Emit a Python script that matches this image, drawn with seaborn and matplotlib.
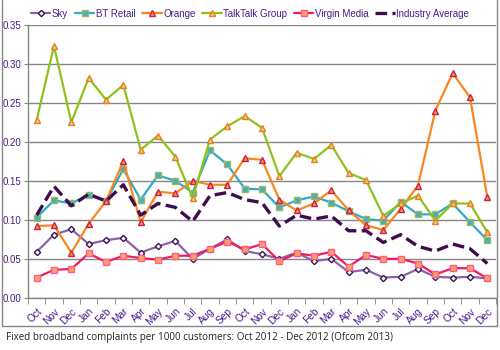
"""Fixed broadband complaints per 1000 customers, Oct 2010 - Dec 2012"""

import numpy as np
import matplotlib
matplotlib.use('Agg')
import matplotlib.pyplot as plt
from matplotlib.lines import Line2D
import seaborn as sns

months = ['Oct', 'Nov', 'Dec', 'Jan', 'Feb', 'Mar', 'Apr', 'May', 'Jun',
          'Jul', 'Aug', 'Sep', 'Oct', 'Nov', 'Dec', 'Jan', 'Feb', 'Mar',
          'Apr', 'May', 'Jun', 'Jul', 'Aug', 'Sep', 'Oct', 'Nov', 'Dec']

sky = [0.059, 0.081, 0.088, 0.069, 0.074, 0.077, 0.058, 0.066, 0.073,
       0.050, 0.063, 0.075, 0.060, 0.056, 0.050, 0.058, 0.047, 0.050,
       0.033, 0.036, 0.026, 0.027, 0.037, 0.027, 0.026, 0.027, 0.025]
bt_retail = [0.103, 0.125, 0.121, 0.132, 0.124, 0.165, 0.126, 0.157, 0.150,
             0.135, 0.189, 0.171, 0.140, 0.139, 0.116, 0.125, 0.130, 0.122,
             0.111, 0.101, 0.099, 0.123, 0.107, 0.107, 0.121, 0.097, 0.074]
orange = [0.092, 0.093, 0.058, 0.095, 0.124, 0.175, 0.097, 0.136, 0.134,
          0.150, 0.145, 0.145, 0.179, 0.177, 0.126, 0.112, 0.121, 0.138,
          0.112, 0.093, 0.087, 0.114, 0.144, 0.240, 0.288, 0.257, 0.129]
talktalk = [0.228, 0.323, 0.225, 0.282, 0.254, 0.273, 0.190, 0.208, 0.181,
            0.128, 0.203, 0.220, 0.233, 0.218, 0.156, 0.186, 0.178, 0.196,
            0.160, 0.151, 0.105, 0.121, 0.131, 0.099, 0.121, 0.121, 0.084]
virgin = [0.026, 0.036, 0.037, 0.057, 0.046, 0.054, 0.051, 0.049, 0.054,
          0.054, 0.063, 0.072, 0.062, 0.069, 0.047, 0.057, 0.054, 0.059,
          0.040, 0.055, 0.050, 0.050, 0.044, 0.030, 0.038, 0.038, 0.025]
industry_avg = [0.106, 0.143, 0.118, 0.133, 0.124, 0.145, 0.106, 0.121, 0.116,
                0.098, 0.131, 0.135, 0.126, 0.122, 0.092, 0.106, 0.101, 0.105,
                0.086, 0.086, 0.071, 0.081, 0.066, 0.060, 0.069, 0.063, 0.044]

sns.set_style('white')
plt.rcParams['font.family'] = ['Liberation Sans', 'DejaVu Sans']

TXT = '#4a1a8a'
GRID = '#868686'
FS = 7

fig = plt.figure(figsize=(5, 3.5), dpi=100)
ax = fig.add_axes([0.056, 0.149, 0.936, 0.78])
x = np.arange(len(months))

# 每条线: (名称, 数据, 线色, 标记, 填充色, 边色, 标记大小)
series = [
    ('Sky', sky, '#8a63a8', 'D', 'white', '#3a1450', 3.2),
    ('BT Retail', bt_retail, '#31a9c8', 's', '#4bacc6', '#9bbb59', 5),
    ('Orange', orange, '#f7871e', '^', '#f79646', '#c8204d', 5),
    ('TalkTalk Group', talktalk, '#8ec21a', '^', '#c5e07a', '#f07a20', 5),
    ('Virgin Media', virgin, '#ee1e5a', 's', '#f9a65a', '#ff5a96', 4.5),
]
for name, vals, lc, mk, mfc, mec, ms in series:
    sns.lineplot(x=x, y=vals, ax=ax, color=lc, lw=1.6, marker=mk,
                 markersize=ms, markerfacecolor=mfc, markeredgecolor=mec,
                 markeredgewidth=1.0, label=name)
sns.lineplot(x=x, y=industry_avg, ax=ax, color='#3f0d4c', lw=2.4,
             label='Industry Average')
ax.lines[-1].set_dashes((3.5, 1.6))

ax.set_xlim(-0.5, len(months) - 0.5)
ax.set_ylim(0, 0.35)
yt = np.arange(0, 0.351, 0.05)
ax.set_yticks(yt)
ax.set_yticklabels([f'{v:.2f}' for v in yt])
ax.set_xticks(x)
ax.set_xticklabels(months, rotation=45, ha='right', rotation_mode='anchor')
ax.set_xticks(np.arange(-0.5, len(months), 1), minor=True)
ax.tick_params(axis='x', which='major', length=0, pad=6, labelsize=FS + 0.3, labelcolor=TXT)
ax.tick_params(axis='x', which='minor', length=4, color=GRID, direction='out', bottom=True)
ax.tick_params(axis='y', length=3, color=GRID, direction='out', left=True,
               labelsize=FS, labelcolor=TXT, pad=1.5)
ax.yaxis.grid(True, color=GRID, lw=1)
ax.set_axisbelow(True)
for s in ['top', 'right']:
    ax.spines[s].set_visible(False)
for s in ['left', 'bottom']:
    ax.spines[s].set_color(GRID)
    ax.spines[s].set_linewidth(1)
ax.set_xlabel('')
ax.set_ylabel('')

handles, labels = ax.get_legend_handles_labels()
ax.get_legend().remove()
leg = fig.legend(handles, labels, loc='upper center', bbox_to_anchor=(0.5, 1.0),
                 ncol=6, frameon=False, fontsize=FS, handlelength=2.0,
                 handletextpad=0.15, columnspacing=0.7)
for t in leg.get_texts():
    t.set_color(TXT)

# 外框
for xs, ys in [([0.003, 0.003], [0.07, 1.0]), ([0.003, 0.994], [0.07, 0.07]),
               ([0.994, 0.994], [0.07, 1.0])]:
    fig.add_artist(Line2D(xs, ys, color=GRID, lw=1, transform=fig.transFigure))

fig.text(0.012, 0.035, 'Fixed broadband complaints per 1000 customers: '
         'Oct 2012 - Dec 2012 (Ofcom 2013)', fontsize=7.1, color='#222222',
         va='center', family=['Open Sans', 'DejaVu Sans'])

fig.savefig('out.png', dpi=100)
